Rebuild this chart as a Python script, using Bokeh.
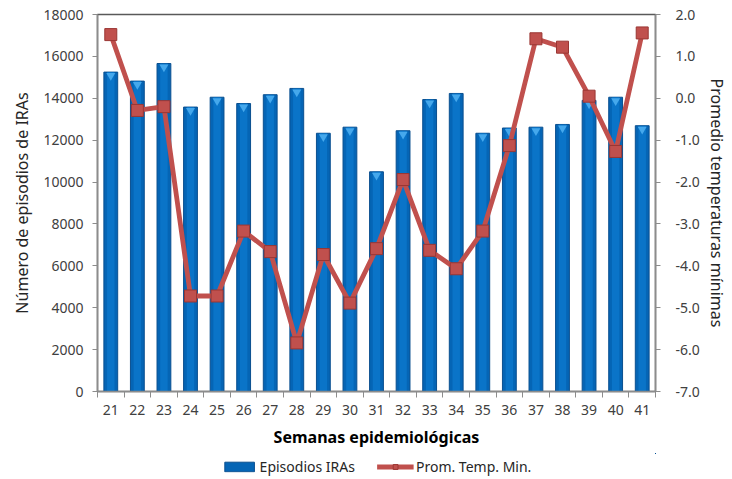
from bokeh.plotting import figure
from bokeh.layouts import column
from bokeh.models import (Range1d, LinearAxis, FixedTicker, Legend, LegendItem,
                          ColumnDataSource, NumeralTickFormatter)
from bokeh.transform import dodge
from bokeh.embed import file_html
from bokeh.resources import INLINE

weeks = ["21", "22", "23", "24", "25", "26", "27", "28", "29", "30", "31",
         "32", "33", "34", "35", "36", "37", "38", "39", "40", "41"]
episodios = [15250, 14820, 15660, 13580, 14050, 13750, 14170, 14470, 12330, 12620, 10490,
             12450, 13940, 14230, 12330, 12580, 12620, 12750, 13900, 14050, 12690]
temp_min = [1.52, -0.29, -0.20, -4.72, -4.72, -3.17, -3.66, -5.84, -3.73, -4.89, -3.59,
            -1.94, -3.63, -4.07, -3.17, -1.13, 1.42, 1.22, 0.05, -1.27, 1.56]
left_ticks = [0, 2000, 4000, 6000, 8000, 10000, 12000, 14000, 16000, 18000]
right_ticks = [-7.0, -6.0, -5.0, -4.0, -3.0, -2.0, -1.0, 0.0, 1.0, 2.0]

n = len(weeks)
xpos = [float(i + 1) for i in range(n)]
minor = [i + 0.5 for i in range(n + 1)]
src = ColumnDataSource(dict(x=xpos, ep=episodios, t=temp_min, w=weeks))

FONT = "Noto Sans"
TXT = "#404040"
AX = "#8c8c8c"
BAR = "#0565B5"
BAR_EDGE = "#0A4F8F"
BAR_MID = "#0A74C8"
BAR_TOP = "#45A8EC"
RED = "#C0504D"
RED_EDGE = "#9A3633"

W = 730
H1 = 453
p = figure(width=W, height=H1, output_backend="svg", toolbar_location=None,
           x_range=Range1d(0.5, n + 0.5), y_range=Range1d(left_ticks[0], left_ticks[-1]),
           min_border_left=97, min_border_right=W - 659, min_border_top=14,
           min_border_bottom=H1 - 391)
p.outline_line_color = "#595959"
p.outline_line_width = 1.5
p.xgrid.visible = False
p.ygrid.visible = False
p.background_fill_color = "white"

p.extra_y_ranges = {"temp": Range1d(right_ticks[0], right_ticks[-1])}

bars = p.vbar(x="x", top="ep", width=0.52, source=src, fill_color=BAR,
              line_color=BAR_EDGE, line_width=1)
p.vbar(x="x", top="ep", width=0.28, source=src, fill_color=BAR_MID, line_color=None)
p.scatter(x="x", y=dodge("ep", -170, range=p.y_range), source=src,
          marker="inverted_triangle", size=9, fill_color=BAR_TOP, line_color=None)
line = p.line(x="x", y="t", source=src, y_range_name="temp", line_color=RED,
              line_width=4.8)
pts = p.scatter(x="x", y="t", source=src, y_range_name="temp", marker="square", size=12,
                fill_color=RED, line_color=RED_EDGE, line_width=1)

# x axis
xa = p.xaxis[0]
xa.ticker = FixedTicker(ticks=xpos, minor_ticks=minor)
xa.major_label_overrides = {x: w for x, w in zip(xpos, weeks)}
xa.major_tick_line_color = None
xa.minor_tick_out = 6
xa.minor_tick_in = 0
xa.minor_tick_line_color = AX
xa.axis_line_color = AX
xa.axis_line_width = 1.5
xa.axis_label = "Semanas epidemiológicas"
xa.axis_label_text_font = FONT
xa.axis_label_text_font_style = "bold"
xa.axis_label_text_font_size = "16px"
xa.axis_label_text_color = "#000000"
xa.axis_label_standoff = 8
xa.major_label_text_font = FONT
xa.major_label_text_font_size = "14px"
xa.major_label_text_color = TXT
xa.major_label_standoff = 7

# left axis
ya = p.yaxis[0]
ya.ticker = FixedTicker(ticks=left_ticks)
ya.formatter = NumeralTickFormatter(format="0")
ya.axis_line_color = AX
ya.axis_line_width = 1.5
ya.major_tick_line_color = AX
ya.major_tick_out = 5
ya.major_tick_in = 0
ya.minor_tick_line_color = None
ya.axis_label = "Número de episodios de IRAs"
ya.axis_label_text_font = FONT
ya.axis_label_text_font_style = "normal"
ya.axis_label_text_font_size = "16px"
ya.axis_label_text_color = "#262626"
ya.axis_label_standoff = 7
ya.major_label_text_font = FONT
ya.major_label_text_font_size = "14px"
ya.major_label_text_color = TXT
ya.major_label_standoff = 9

# right axis
ra = LinearAxis(y_range_name="temp", ticker=FixedTicker(ticks=right_ticks),
                formatter=NumeralTickFormatter(format="0.0"))
ra.axis_line_color = AX
ra.axis_line_width = 1.5
ra.major_tick_line_color = AX
ra.major_tick_out = 5
ra.major_tick_in = 0
ra.minor_tick_line_color = None
ra.axis_label = "Promedio temperaturas mínimas"
ra.axis_label_text_font = FONT
ra.axis_label_text_font_style = "normal"
ra.axis_label_text_font_size = "16px"
ra.axis_label_text_color = "#262626"
ra.axis_label_standoff = 3
ra.major_label_text_font = FONT
ra.major_label_text_font_size = "14px"
ra.major_label_text_color = TXT
ra.major_label_standoff = 15
p.add_layout(ra, "right")

# legend strip below the chart (its glyphs use ranges where no mark is in view)
H2 = 26
lg = figure(width=W, height=H2, output_backend="svg", toolbar_location=None,
            x_range=Range1d(-100, -99), y_range=Range1d(-100, -99),
            min_border=0, min_border_left=0, min_border_right=0,
            min_border_top=0, min_border_bottom=0)
lg.axis.visible = False
lg.grid.visible = False
lg.outline_line_color = None
lb = lg.vbar(x="x", top="ep", width=0.52, source=src, fill_color=BAR,
             line_color=BAR_EDGE)
ll = lg.line(x="x", y="t", source=src, line_color=RED, line_width=4.8)
ls = lg.scatter(x="x", y="t", source=src, marker="square", size=11,
                fill_color=RED, line_color=RED_EDGE)
legend = Legend(items=[LegendItem(label="Episodios IRAs", renderers=[lb]),
                       LegendItem(label="Prom. Temp. Min.", renderers=[ll, ls])],
                orientation="horizontal", location="center")
legend.label_text_font = FONT
legend.label_text_font_size = "14px"
legend.label_text_color = "#262626"
legend.glyph_width = 37
legend.glyph_height = 12
legend.spacing = 22
legend.padding = 2
legend.margin = 0
legend.label_standoff = 2
legend.border_line_color = None
legend.background_fill_alpha = 0
lg.add_layout(legend, "center")

layout = column(p, lg, spacing=0)
open("out.html", "w").write(file_html(layout, INLINE))
